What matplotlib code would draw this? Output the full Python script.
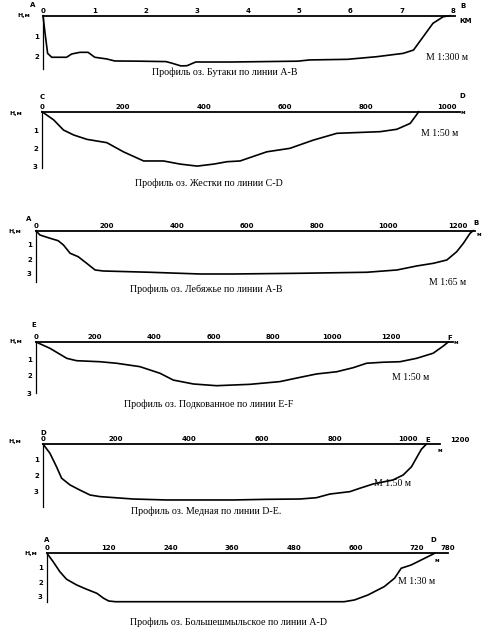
import matplotlib
matplotlib.use("Agg")
import matplotlib.pyplot as plt

# Профили озёр: расстояние по линии и глубина (м)
x_butaki = [0, 0.04, 0.09, 0.17, 0.46, 0.56, 0.72, 0.88, 1.01, 1.24, 1.4, 1.88, 2.4, 2.52,
            2.69, 2.81, 2.98, 3.68, 4.97, 5.2, 5.94, 6.52, 7.03, 7.23, 7.42, 7.61, 7.81, 7.94]
d_butaki = [0, 0.85, 1.83, 2.02, 2.02, 1.86, 1.78, 1.78, 2.02, 2.1, 2.2, 2.21, 2.23, 2.31,
            2.44, 2.43, 2.25, 2.25, 2.21, 2.15, 2.12, 1.99, 1.83, 1.67, 1.02, 0.37, 0.05, 0]

x_zhestki = [0, 29, 53, 78, 111, 160, 201, 251, 300, 341, 383, 424, 457, 489, 514, 555,
             612, 670, 728, 835, 876, 909, 926, 930]
d_zhestki = [0, 0.45, 1.0, 1.27, 1.51, 1.69, 2.19, 2.69, 2.69, 2.86, 2.97, 2.86, 2.73, 2.69,
             2.5, 2.19, 2.0, 1.55, 1.18, 1.09, 0.96, 0.64, 0.13, 0]

x_lebyazhye = [0, 11, 40, 63, 78, 97, 120, 144, 168, 191, 324, 466, 561, 751, 940, 1026,
               1082, 1130, 1168, 1196, 1215, 1234, 1243]
d_lebyazhye = [0, 0.3, 0.53, 0.7, 1.0, 1.58, 1.82, 2.28, 2.75, 2.82, 2.91, 3.03, 3.03, 2.98,
               2.91, 2.75, 2.47, 2.28, 2.05, 1.47, 0.88, 0.18, 0]

x_podkova = [0, 47, 104, 137, 216, 272, 351, 419, 464, 532, 610, 723, 824, 892, 948, 1016,
             1072, 1117, 1173, 1230, 1286, 1342, 1376, 1393]
d_podkova = [0, 0.37, 0.96, 1.1, 1.16, 1.25, 1.45, 1.84, 2.24, 2.47, 2.57, 2.49, 2.33, 2.08,
             1.88, 1.75, 1.51, 1.25, 1.19, 1.16, 0.96, 0.66, 0.24, 0]

x_mednaya = [0, 19, 37, 51, 74, 101, 129, 156, 247, 338, 430, 521, 613, 704, 749, 786, 841,
             868, 905, 959, 987, 1010, 1023, 1037, 1051]
d_mednaya = [0, 0.58, 1.42, 2.14, 2.56, 2.88, 3.19, 3.29, 3.44, 3.5, 3.5, 3.5, 3.46, 3.44,
             3.36, 3.13, 2.98, 2.77, 2.5, 2.25, 1.94, 1.42, 0.89, 0.33, 0]

x_bolshe = [0, 12, 25, 38, 58, 77, 97, 110, 120, 133, 578, 598, 624, 656, 676, 689, 708, 728, 754]
d_bolshe = [0, 0.58, 1.27, 1.79, 2.19, 2.48, 2.76, 3.1, 3.29, 3.34, 3.34, 3.22, 2.88, 2.3,
            1.72, 1.03, 0.81, 0.46, 0]

ticks_butaki = [0, 1, 2, 3, 4, 5, 6, 7, 8]
ticks_zhestki = [0, 200, 400, 600, 800, 1000]
ticks_lebyazhye = [0, 200, 400, 600, 800, 1000, 1200]
ticks_podkova = [0, 200, 400, 600, 800, 1000, 1200]
ticks_mednaya = [0, 200, 400, 600, 800, 1000]
ticks_bolshe = [0, 120, 240, 360, 480, 600, 720, 780]

titles = ["Профиль оз. Бутаки по линии А-В",
          "Профиль оз. Жестки по линии С-D",
          "Профиль оз. Лебяжье по линии А-В",
          "Профиль оз. Подкованное по линии E-F",
          "Профиль оз. Медная по линии D-E.",
          "Профиль оз. Большешмыльское по линии А-D"]
scales = ["М 1:300 м", "М 1:50 м", "М 1:65 м", "М 1:50 м", "М 1.50 м", "М 1:30 м"]
ends = [("А", "В"), ("С", "D"), ("А", "В"), ("Е", "F"), ("D", "Е"), ("А", "D")]

W, H = 484, 629
fig = plt.figure(figsize=(W / 100, H / 100), dpi=100)

def fx(x):
    return x / W

def fy(y):
    return 1 - y / H

# раскладка (в пикселях): x0, x1, верх, низ, xmax, dmax, подпись, масштаб, буквы
panels = [
    dict(x=x_butaki, d=d_butaki, ticks=ticks_butaki, x0=43, x1=455, top=15.7, bot=69,
         xmax=8.04, dmax=2.59, yt=[1, 2], title=(225, 72), sc=(447, 58),
         a=(33, 5), b=(463, 6), hm=(24, 16), unit=(466, 21), unit_txt="КМ"),
    dict(x=x_zhestki, d=d_zhestki, ticks=ticks_zhestki, x0=42, x1=460, top=111.7, bot=168.3,
         xmax=1032, dmax=3.09, yt=[1, 2, 3], title=(209, 183), sc=(440, 133),
         a=(42, 97), b=(462, 96), hm=(16, 113), unit=(463, 113), unit_txt="м"),
    dict(x=x_lebyazhye, d=d_lebyazhye, ticks=ticks_lebyazhye, x0=36, x1=475, top=230.7, bot=281.7,
         xmax=1248, dmax=3.57, yt=[1, 2, 3], title=(206, 289), sc=(448, 282),
         a=(29, 219), b=(476, 223), hm=(15, 231), unit=(479, 234), unit_txt="м"),
    dict(x=x_podkova, d=d_podkova, ticks=ticks_podkova, x0=36, x1=453, top=342, bot=393,
         xmax=1409, dmax=3.0, yt=[1, 2, 3], title=(209, 404), sc=(411, 378),
         a=(34, 325), b=(450, 338), hm=(16, 341), unit=(456, 343), unit_txt="м"),
    dict(x=x_mednaya, d=d_mednaya, ticks=ticks_mednaya, x0=43, x1=440, top=444, bot=507,
         xmax=1088, dmax=3.94, yt=[1, 2, 3], title=(206, 511), sc=(393, 483),
         a=(43, 433), b=(428, 440), hm=(15, 441), unit=(440, 450), unit_txt="м"),
    dict(x=x_bolshe, d=d_bolshe, ticks=ticks_bolshe, x0=47, x1=448, top=553.3, bot=602,
         xmax=780, dmax=3.36, yt=[1, 2, 3], title=(229, 622), sc=(417, 582),
         a=(47, 540), b=(433, 540), hm=(31, 554), unit=(437, 560), unit_txt="м"),
]

tick_font = dict(family="DejaVu Sans", weight="bold", size=5)
serif = "Liberation Serif"

for i, p in enumerate(panels):
    ax = fig.add_axes([fx(p["x0"]), fy(p["bot"]), fx(p["x1"] - p["x0"]),
                       (p["bot"] - p["top"]) / H])
    ax.plot(p["x"], p["d"], color="black", lw=1.2, clip_on=False)
    ax.set_xlim(0, p["xmax"])
    ax.set_ylim(p["dmax"], 0)
    for s in ["right", "bottom"]:
        ax.spines[s].set_visible(False)
    ax.spines["top"].set_linewidth(1.3)
    ax.spines["left"].set_linewidth(0.9)
    ax.xaxis.tick_top()
    ax.set_xticks(p["ticks"])
    ax.set_xticklabels([str(t) for t in p["ticks"]])
    ax.set_yticks(p["yt"])
    ax.set_yticklabels([str(t) for t in p["yt"]])
    ax.tick_params(axis="x", length=0, pad=1.5)
    ax.tick_params(axis="y", length=0, pad=3)
    for lab in ax.get_xticklabels() + ax.get_yticklabels():
        lab.set_fontproperties(matplotlib.font_manager.FontProperties(**tick_font))
    ax.patch.set_alpha(0)

    fig.text(fx(p["title"][0]), fy(p["title"][1]), titles[i], ha="center", va="center",
             family=serif, size=7.2)
    fig.text(fx(p["sc"][0]), fy(p["sc"][1]), scales[i], ha="center", va="center",
             family=serif, size=7)
    fig.text(fx(p["a"][0]), fy(p["a"][1]), ends[i][0], ha="center", va="center",
             family="DejaVu Sans", weight="bold", size=5)
    fig.text(fx(p["b"][0]), fy(p["b"][1]), ends[i][1], ha="center", va="center",
             family="DejaVu Sans", weight="bold", size=5)
    fig.text(fx(p["hm"][0]), fy(p["hm"][1]), "Н,м", ha="center", va="center",
             family="DejaVu Sans", weight="bold", size=4.5)
    fig.text(fx(p["unit"][0]), fy(p["unit"][1]), p["unit_txt"], ha="center", va="center",
             family="DejaVu Sans", weight="bold", size=5 if i == 0 else 4)

# у оз. Медная подпись 1200 стоит за концом линии
fig.text(fx(460), fy(440), "1200", ha="center", va="center", **tick_font)

fig.savefig("out.png", dpi=100)
